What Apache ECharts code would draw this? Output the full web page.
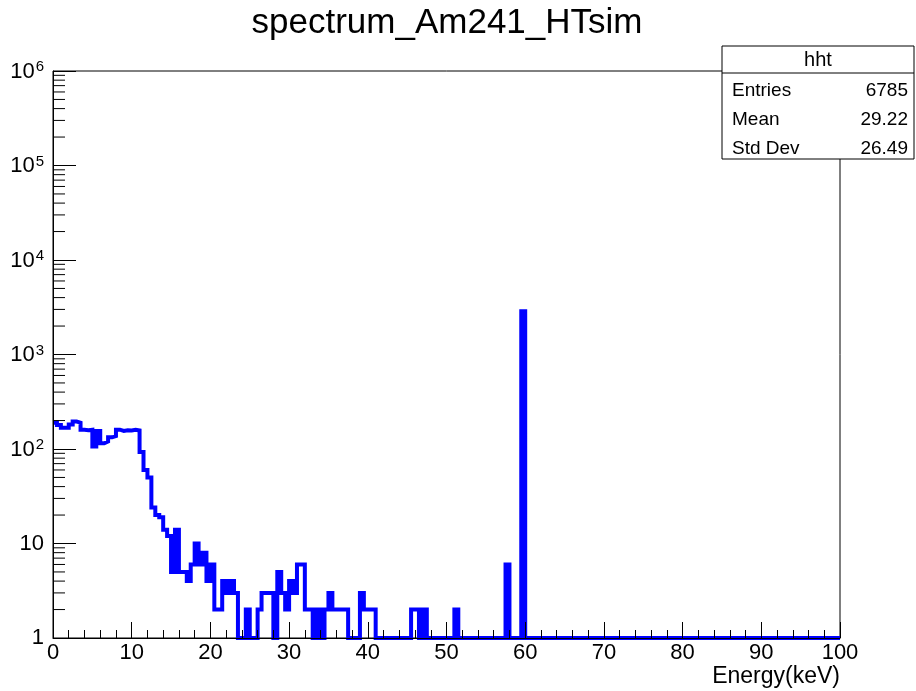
<!DOCTYPE html>
<html>
<head>
<meta charset="utf-8">
<script src="https://cdn.jsdelivr.net/npm/echarts@6/dist/echarts.min.js"></script>
<style>
  html, body { margin: 0; padding: 0; background: #ffffff; }
  #chart { width: 916px; height: 691px; }
</style>
</head>
<body>
<div id="chart"></div>
<script>
// Histogram "hht": 200 bins of 0.5 keV from 0 to 100 keV
const histName = 'hht';
const titleText = 'spectrum_Am241_HTsim';
const xTitle = 'Energy(keV)';
const binWidth = 0.5;
const xMin = 0;
const xMax = 100;

// bin contents, in order of increasing energy
const counts = [
  190, 180, 168, 168, 182, 195, 190, 160, 158, 160,
  106, 155, 115, 120, 133, 137, 160, 155, 158, 157,
  160, 157, 93, 60, 50, 24, 20, 19, 14, 12,
  5, 14, 5, 5, 4, 6, 10, 6, 8, 4,
  6, 2, 2, 4, 3, 4, 3, 0, 0, 2,
  0, 0, 2, 3, 3, 3, 0, 5, 3, 2,
  4, 3, 6, 6, 2, 2, 0, 2, 0, 2,
  3, 2, 2, 2, 2, 0, 0, 0, 3, 2,
  2, 2, 0, 0, 0, 0, 0, 0, 0, 0,
  0, 2, 2, 0, 2, 0, 0, 0, 0, 0,
  0, 0, 2, 0, 0, 0, 0, 0, 0, 0,
  0, 0, 0, 0, 0, 6, 0, 0, 0, 2870,
  0, 0, 0, 0, 0, 0, 0, 0, 0, 0,
  0, 0, 0, 0, 0, 0, 0, 0, 0, 0,
  0, 0, 0, 0, 0, 0, 0, 0, 0, 0,
  0, 0, 0, 0, 0, 0, 0, 0, 0, 0,
  0, 0, 0, 0, 0, 0, 0, 0, 0, 0,
  0, 0, 0, 0, 0, 0, 0, 0, 0, 0,
  0, 0, 0, 0, 0, 0, 0, 0, 0, 0,
  0, 0, 0, 0, 0, 0, 0, 0, 0, 0
];

// axis ticks
const xTickStep = 10;
const yDecades = [1, 10, 100, 1000, 10000, 100000, 1000000];

// statistics box
const statsLabels = ['Entries', 'Mean', 'Std Dev'];
const statsValues = ['6785', '29.22', '26.49'];

const FONT = "'Liberation Sans', Arial, Helvetica, sans-serif";
const yMin = yDecades[0];
const yMax = yDecades[yDecades.length - 1];

// Step outline: each bin starts at its low edge; empty bins sit on the axis floor
const stepData = counts.map((c, i) => [xMin + i * binWidth, Math.max(c, yMin)]);
stepData.push([xMax, Math.max(counts[counts.length - 1], yMin)]);

// minor ticks of the log axis at 2..9 x 10^k
const yMinorTicks = [];
for (let d = 0; d < yDecades.length - 1; d++) {
  for (let m = 2; m <= 9; m++) yMinorTicks.push(yDecades[d] * m);
}

const chart = echarts.init(document.getElementById('chart'), null, { renderer: 'canvas' });

const gridLeft = 53, gridRight = 76, gridTop = 71, gridBottom = 53;
const boxX = 722, boxY = 46, boxW = 192, boxH = 113, boxHeadH = 27;

chart.setOption({
  animation: false,
  backgroundColor: '#ffffff',
  textStyle: { fontFamily: FONT },
  grid: {
    left: gridLeft, right: gridRight, top: gridTop, bottom: gridBottom,
    show: true, borderColor: '#000000', borderWidth: 1, backgroundColor: 'transparent'
  },
  xAxis: {
    type: 'value', min: xMin, max: xMax, interval: xTickStep,
    z: 5,
    axisLine: { show: true, onZero: false, lineStyle: { color: '#000000', width: 1 } },
    axisTick: { show: true, inside: true, length: 16, lineStyle: { color: '#000000', width: 1 } },
    minorTick: { show: true, splitNumber: 5, length: 8, lineStyle: { color: '#000000', width: 1 } },
    axisLabel: { color: '#000000', fontSize: 22, fontFamily: FONT, margin: 4 },
    splitLine: { show: false }
  },
  yAxis: {
    type: 'log', logBase: 10, min: yMin, max: yMax, splitNumber: 6,
    z: 5,
    axisLine: { show: true, lineStyle: { color: '#000000', width: 1 } },
    axisTick: { show: true, inside: true, length: 23, lineStyle: { color: '#000000', width: 1 } },
    axisLabel: {
      color: '#000000', fontSize: 22, fontFamily: FONT, margin: 9,
      formatter: function (v) {
        const e = Math.round(Math.log10(v));
        if (e === 0) return '1';
        if (e === 1) return '10';
        return '{b|10}{s|' + e + '}';
      },
      rich: {
        b: { fontSize: 22, fontFamily: FONT, color: '#000000', verticalAlign: 'bottom' },
        s: { fontSize: 15, fontFamily: FONT, color: '#000000', verticalAlign: 'top', padding: [0, 0, 8, 1] }
      }
    },
    splitLine: { show: false }
  },
  series: [
    {
      name: histName,
      type: 'line',
      step: 'end',
      data: stepData,
      symbol: 'none',
      clip: true,
      z: 2,
      lineStyle: { color: '#0000ff', width: 4, join: 'miter' }
    },
    {
      type: 'custom',
      silent: true,
      clip: false,
      z: 6,
      data: yMinorTicks.map(v => [xMin, v]),
      renderItem: function (params, api) {
        const p = api.coord([api.value(0), api.value(1)]);
        return {
          type: 'line',
          shape: { x1: p[0], y1: p[1], x2: p[0] + 12, y2: p[1] },
          style: { stroke: '#000000', lineWidth: 1 }
        };
      }
    }
  ],
  graphic: [
    {
      type: 'text', x: 447, y: 23, z: 10,
      style: { text: titleText, font: '35px ' + FONT, fill: '#000000', textAlign: 'center', textVerticalAlign: 'middle' }
    },
    {
      type: 'text', x: 840, y: 677, z: 10,
      style: { text: xTitle, font: '23px ' + FONT, fill: '#000000', textAlign: 'right', textVerticalAlign: 'middle' }
    },
    {
      type: 'group', z: 20,
      children: [
        { type: 'rect', shape: { x: boxX, y: boxY, width: boxW, height: boxH }, style: { fill: '#ffffff', stroke: '#000000', lineWidth: 1 } },
        { type: 'line', shape: { x1: boxX, y1: boxY + boxHeadH, x2: boxX + boxW, y2: boxY + boxHeadH }, style: { stroke: '#000000', lineWidth: 1 } },
        { type: 'text', x: boxX + boxW / 2, y: boxY + boxHeadH / 2 + 1, style: { text: histName, font: '20px ' + FONT, fill: '#000000', textAlign: 'center', textVerticalAlign: 'middle' } }
      ].concat(statsLabels.map((t, i) => ({
        type: 'text', x: boxX + 10, y: boxY + 45 + i * 29,
        style: { text: t, font: '19px ' + FONT, fill: '#000000', textAlign: 'left', textVerticalAlign: 'middle' }
      }))).concat(statsValues.map((t, i) => ({
        type: 'text', x: boxX + boxW - 6, y: boxY + 45 + i * 29,
        style: { text: t, font: '19px ' + FONT, fill: '#000000', textAlign: 'right', textVerticalAlign: 'middle' }
      })))
    }
  ]
});
</script>
</body>
</html>
